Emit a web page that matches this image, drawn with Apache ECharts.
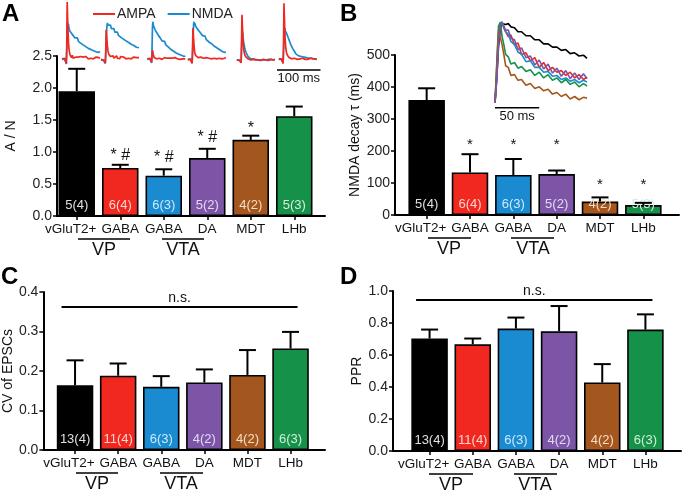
<!DOCTYPE html>
<html><head><meta charset="utf-8">
<script src="https://cdn.jsdelivr.net/npm/echarts@6/dist/echarts.min.js"></script>
<style>html,body{margin:0;padding:0;background:#fff}#c{width:682px;height:494px}</style>
</head><body><div id="c"></div>
<script>
// ---------- data ----------
const categories = ['vGluT2+', 'GABA', 'GABA', 'DA', 'MDT', 'LHb'];
const groupLabels = ['VP', 'VTA'];
const barColors = ['#000000', '#f0281f', '#1a8bd0', '#7c55a6', '#a4561f', '#16914a'];
const labelColors = ['#e0e0e0', '#ffd4cf', '#cfe9fb', '#e4d8f2', '#f6dcc4', '#d0f0da'];

// Panel A: AMPA/NMDA ratio
const aMean = [1.95, 0.75, 0.63, 0.905, 1.19, 1.56];
const aErr = [0.35, 0.05, 0.10, 0.145, 0.065, 0.15];
const aN = ['5(4)', '6(4)', '6(3)', '5(2)', '4(2)', '5(3)'];
const aSig = ['', '* #', '* #', '* #', '*', ''];
const aSigLevel = [null, 0.95, 0.92, 1.23, 1.37, null];
const aTicks = {min: 0, max: 2.5, interval: 0.5};

// Panel B: NMDA decay tau (ms)
const bMean = [359, 133, 125, 128, 42, 31];
const bErr = [37, 57, 50, 11, 13, 7];
const bN = ['5(4)', '6(4)', '6(3)', '5(2)', '4(2)', '5(3)'];
const bSig = ['', '*', '*', '*', '*', '*'];
const bSigLevel = [null, 219, 219, 219, 94, 94];
const bTicks = {min: 0, max: 500, interval: 100};

// Panel C: CV of EPSCs
const cMean = [0.164, 0.188, 0.160, 0.171, 0.190, 0.257];
const cErr = [0.063, 0.031, 0.027, 0.033, 0.063, 0.042];
const cN = ['13(4)', '11(4)', '6(3)', '4(2)', '4(2)', '6(3)'];
const cNsLevel = 0.362;
const cTicks = {min: 0, max: 0.4, interval: 0.1};

// Panel D: PPR
const dMean = [0.703, 0.667, 0.765, 0.748, 0.428, 0.759];
const dErr = [0.056, 0.036, 0.069, 0.158, 0.115, 0.095];
const dN = ['13(4)', '11(4)', '6(3)', '4(2)', '4(2)', '6(3)'];
const dNsLevel = 0.944;
const dTicks = {min: 0, max: 1.0, interval: 0.2};

// Example traces, panel A (time in ms, normalized amplitude)
const traceT = [0,3,6,8,10,11,12,13,14,15,16,18,20,22,24,26,28,30,32,34,36,38,40,43,46,49,52,55,58,61,64,67,70,73,76,79,82,85,88];
const ampa1 = [0.02,0.0,0.03,0.01,-0.06,0.25,1.0,0.72,0.48,0.3,0.2,0.1,0.07,0.04,0.08,0.03,0.06,0.02,0.05,0.07,0.03,0.05,0.02,0.06,0.03,0.05,0.02,0.06,0.04,0.02,0.05,0.03,0.06,0.02,0.04,0.05,0.02,0.04,0.03];
const nmda1 = [0.01,-0.02,0.02,0.0,-0.07,0.15,0.45,0.64,0.58,0.62,0.55,0.5,0.53,0.46,0.49,0.42,0.45,0.38,0.41,0.35,0.38,0.32,0.35,0.29,0.31,0.26,0.29,0.23,0.26,0.2,0.23,0.18,0.21,0.16,0.19,0.14,0.17,0.13,0.15];
const ampa2 = [0.01,0.03,0.0,0.02,-0.05,0.15,0.52,0.42,0.32,0.22,0.16,0.1,0.12,0.06,0.09,0.04,0.07,0.03,0.06,0.04,0.07,0.03,0.05,0.02,0.06,0.03,0.05,0.04,0.02,0.05,0.03,0.06,0.02,0.04,0.05,0.03,0.04,0.02,0.04];
const nmda2 = [0.0,0.02,-0.01,0.01,-0.06,0.1,0.3,0.5,0.6,0.64,0.6,0.63,0.57,0.6,0.54,0.57,0.51,0.54,0.48,0.51,0.45,0.48,0.43,0.45,0.39,0.42,0.36,0.38,0.33,0.35,0.3,0.32,0.27,0.29,0.25,0.27,0.22,0.24,0.21];
const ampa3 = [0.02,0.0,0.03,0.01,-0.04,0.08,0.17,0.13,0.09,0.06,0.04,0.03,0.05,0.02,0.04,0.01,0.03,0.02,0.04,0.01,0.03,0.02,0.04,0.01,0.03,0.02,0.03,0.01,0.03,0.02,0.04,0.01,0.02,0.03,0.01,0.03,0.02,0.03,0.02];
const nmda3 = [0.01,0.0,0.02,0.0,-0.05,0.2,0.58,0.66,0.6,0.63,0.56,0.52,0.55,0.47,0.5,0.42,0.45,0.38,0.4,0.33,0.36,0.3,0.32,0.26,0.28,0.22,0.24,0.18,0.2,0.15,0.17,0.12,0.14,0.1,0.12,0.08,0.1,0.06,0.07];
const ampa4 = [0.0,0.02,0.01,0.0,-0.06,0.2,0.55,0.42,0.3,0.2,0.13,0.08,0.05,0.07,0.04,0.06,0.03,0.05,0.02,0.05,0.03,0.06,0.02,0.04,0.05,0.03,0.05,0.02,0.04,0.03,0.05,0.02,0.04,0.03,0.05,0.02,0.04,0.03,0.04];
const nmda4 = [0.01,-0.01,0.02,0.0,-0.05,0.1,0.35,0.55,0.66,0.6,0.64,0.58,0.61,0.54,0.57,0.5,0.53,0.46,0.49,0.42,0.45,0.39,0.41,0.35,0.37,0.31,0.33,0.28,0.3,0.24,0.27,0.21,0.23,0.18,0.2,0.15,0.18,0.13,0.14];
const ampa5 = [0.0,0.01,-0.01,0.0,-0.05,0.3,0.78,0.58,0.4,0.27,0.18,0.1,0.06,0.04,0.03,0.02,0.01,0.02,0.0,0.01,0.0,0.01,-0.01,0.0,0.01,0.0,0.01,-0.01,0.0,0.01,0.0,0.0,0.01,-0.01,0.0,0.01,0.0,0.0,0.01];
const nmda5 = [0.0,0.01,0.0,0.01,-0.04,0.2,0.42,0.5,0.44,0.36,0.3,0.22,0.16,0.12,0.09,0.06,0.05,0.03,0.02,0.03,0.01,0.02,0.0,0.01,0.02,0.0,0.01,0.0,0.01,0.0,0.01,0.0,0.0,0.01,0.0,0.01,0.0,0.0,0.01];
const ampa6 = [0.02,0.0,0.02,0.01,-0.06,0.3,0.98,0.72,0.48,0.32,0.22,0.12,0.08,0.05,0.04,0.03,0.05,0.02,0.04,0.01,0.03,0.02,0.04,0.01,0.03,0.02,0.01,0.03,0.02,0.01,0.03,0.01,0.02,0.03,0.01,0.02,0.01,0.02,0.02];
const nmda6 = [0.01,0.0,0.01,0.0,-0.05,0.15,0.38,0.48,0.55,0.5,0.52,0.46,0.42,0.38,0.34,0.3,0.26,0.23,0.2,0.17,0.15,0.12,0.1,0.08,0.07,0.05,0.06,0.04,0.05,0.03,0.04,0.02,0.03,0.02,0.03,0.01,0.02,0.02,0.01];
const ampaTraces = [ampa1, ampa2, ampa3, ampa4, ampa5, ampa6];
const nmdaTraces = [nmda1, nmda2, nmda3, nmda4, nmda5, nmda6];

// Normalized NMDA traces, panel B inset
const insetT = [0,2,4,6,8,10,12,15,18,22,26,30,35,40,45,50,55,60,65,70,75,80,85,90,95,100,104];
const insetBlack = [0,0.3,0.7,0.92,0.98,1.0,0.97,0.98,0.94,0.93,0.88,0.88,0.83,0.83,0.78,0.78,0.73,0.73,0.69,0.69,0.65,0.66,0.61,0.62,0.58,0.59,0.55];
const insetRed = [0,0.35,0.8,0.97,1.0,0.92,0.93,0.82,0.84,0.72,0.74,0.6,0.62,0.52,0.56,0.44,0.5,0.4,0.44,0.38,0.4,0.34,0.38,0.31,0.35,0.29,0.32];
const insetBlue = [0,0.35,0.8,0.97,1.0,0.95,0.88,0.85,0.76,0.72,0.63,0.6,0.51,0.52,0.44,0.44,0.38,0.39,0.33,0.34,0.29,0.31,0.27,0.29,0.25,0.28,0.26];
const insetPurple = [0,0.3,0.75,0.95,0.99,1.0,0.9,0.9,0.8,0.78,0.66,0.68,0.56,0.58,0.47,0.53,0.42,0.48,0.37,0.43,0.33,0.4,0.3,0.37,0.29,0.36,0.3];
const insetGreen = [0,0.5,0.95,1.0,0.82,0.72,0.6,0.57,0.48,0.5,0.43,0.45,0.39,0.41,0.34,0.38,0.31,0.35,0.28,0.31,0.25,0.29,0.23,0.26,0.2,0.24,0.21];
const insetBrown = [0,0.45,0.9,0.92,0.72,0.6,0.46,0.44,0.34,0.35,0.28,0.29,0.22,0.24,0.18,0.2,0.15,0.17,0.11,0.13,0.08,0.11,0.05,0.08,0.04,0.07,0.06];
const insetTraces = [insetBlack, insetRed, insetBlue, insetPurple, insetGreen, insetBrown];
const insetColors = ['#000000', '#f0281f', '#1a8bd0', '#7c55a6', '#16914a', '#a4561f'];
const insetOrder = [0, 1, 2, 4, 5, 3];

// scale bars
const scaleA = [0, 100];
const scaleB = [0, 50];

// ---------- chart ----------
const FONT = '"Liberation Sans", Arial, Helvetica, sans-serif';
const chart = echarts.init(document.getElementById('c'));
const grids = [], xAxes = [], yAxes = [], series = [];

function barPanel(cfg) {
  grids.push(cfg.frame);
  const gf = grids.length - 1;
  xAxes.push({gridIndex: gf, type: 'value', min: 0, max: 1,
    axisLine: {show: true, onZero: false, lineStyle: {color: '#000', width: 2}},
    axisTick: {show: false}, axisLabel: {show: false}, splitLine: {show: false}});
  yAxes.push({gridIndex: gf, type: 'value', min: cfg.ticks.min, max: cfg.ticks.max, interval: cfg.ticks.interval,
    name: cfg.name, nameLocation: 'middle', nameGap: cfg.nameGap,
    nameTextStyle: {fontSize: 14, color: '#111', fontFamily: FONT},
    axisLine: {show: true, lineStyle: {color: '#000', width: 2}},
    axisTick: {show: true, length: 4, lineStyle: {color: '#000', width: 1.5}},
    axisLabel: {fontSize: 14, color: '#222', margin: 5, fontFamily: FONT,
      formatter: v => v.toFixed(cfg.dec)},
    splitLine: {show: false}});
  grids.push(cfg.bar);
  const gb = grids.length - 1;
  xAxes.push({gridIndex: gb, type: 'category',
    data: categories.map((c, i) => i === 0 ? {value: c, textStyle: {padding: [0, 12, 0, 0]}} : c),
    axisLine: {show: false},
    axisTick: {show: true, alignWithLabel: true, length: 4, lineStyle: {color: '#000', width: 1.5}},
    axisLabel: {fontSize: 13.5, color: '#111', margin: 6, fontFamily: FONT, interval: 0},
    splitLine: {show: false}});
  yAxes.push({gridIndex: gb, type: 'value', min: cfg.ticks.min, max: cfg.ticks.max, show: false});
  const xb = xAxes.length - 1, yb = yAxes.length - 1;
  series.push({type: 'bar', xAxisIndex: xb, yAxisIndex: yb, barWidth: 36.5,
    data: cfg.mean.map((v, i) => ({value: v, itemStyle: {color: barColors[i]}, label: {color: labelColors[i]}})),
    itemStyle: {borderColor: '#000', borderWidth: 1.6},
    label: {show: true, position: 'insideBottom', distance: 4, fontSize: 13, fontFamily: FONT,
      formatter: p => cfg.n[p.dataIndex]},
    z: 2});
  series.push({type: 'custom', xAxisIndex: xb, yAxisIndex: yb, z: 3,
    data: cfg.mean.map((v, i) => [i, v, cfg.err[i]]),
    renderItem: function (params, api) {
      const i = api.value(0), m = api.value(1), e = api.value(2);
      const p0 = api.coord([i, m]), p1 = api.coord([i, m + e]);
      const ch = [
        {type: 'line', shape: {x1: p0[0], y1: p0[1], x2: p1[0], y2: p1[1]}, style: {stroke: '#000', lineWidth: 2}},
        {type: 'line', shape: {x1: p1[0] - 8.5, y1: p1[1], x2: p1[0] + 8.5, y2: p1[1]}, style: {stroke: '#000', lineWidth: 2}}
      ];
      if (cfg.sig && cfg.sig[params.dataIndex]) {
        const ps = api.coord([i, cfg.sigLevel[params.dataIndex]]);
        ch.push({type: 'text', x: ps[0], y: ps[1],
          style: {text: cfg.sig[params.dataIndex], fill: '#111', fontSize: cfg.sigSize, fontFamily: FONT,
            align: 'center', verticalAlign: 'middle'}});
      }
      return {type: 'group', children: ch};
    }});
  if (cfg.nsLevel != null) {
    series.push({type: 'custom', xAxisIndex: xb, yAxisIndex: yb, z: 3,
      data: [[0, cfg.nsLevel]],
      renderItem: function (params, api) {
        const pa = api.coord([0, api.value(1)]), pb = api.coord([categories.length - 1, api.value(1)]);
        const x1 = pa[0] - 13.5, x2 = pb[0] + 7;
        return {type: 'group', children: [
          {type: 'line', shape: {x1: x1, y1: pa[1], x2: x2, y2: pa[1]}, style: {stroke: '#000', lineWidth: 2}},
          {type: 'text', x: (x1 + x2) / 2, y: pa[1] - 9,
            style: {text: 'n.s.', fill: '#111', fontSize: 14, fontFamily: FONT, align: 'center', verticalAlign: 'middle'}}
        ]};
      }});
  }
}

barPanel({frame: {left: 57, top: 56, width: 268, height: 160}, bar: {left: 55, top: 56, width: 261, height: 160},
  ticks: aTicks, dec: 1, name: 'A / N', nameGap: 39, mean: aMean, err: aErr, n: aN, sig: aSig, sigLevel: aSigLevel, sigSize: 16});
barPanel({frame: {left: 395, top: 55, width: 284, height: 160}, bar: {left: 405, top: 55, width: 260, height: 160},
  ticks: bTicks, dec: 0, name: 'NMDA decay τ (ms)', nameGap: 33, mean: bMean, err: bErr, n: bN, sig: bSig, sigLevel: bSigLevel, sigSize: 15});
barPanel({frame: {left: 40, top: 292, width: 285, height: 158}, bar: {left: 53.5, top: 292, width: 258.6, height: 158},
  ticks: cTicks, dec: 1, name: 'CV of EPSCs', nameGap: 22, mean: cMean, err: cErr, n: cN, nsLevel: cNsLevel});
barPanel({frame: {left: 393, top: 291, width: 288, height: 160}, bar: {left: 408, top: 291, width: 259, height: 160},
  ticks: dTicks, dec: 1, name: 'PPR', nameGap: 25, mean: dMean, err: dErr, n: dN, nsLevel: dNsLevel});

// Panel A example traces
const traceLefts = [62, 101, 147.3, 187.8, 236.8, 278.8];
traceLefts.forEach((lx, k) => {
  grids.push({left: lx, top: 2, width: 38, height: 62.6});
  const g = grids.length - 1;
  xAxes.push({gridIndex: g, type: 'value', min: 0, max: 88, show: false});
  yAxes.push({gridIndex: g, type: 'value', min: -0.08, max: 1, show: false});
  const xi = xAxes.length - 1, yi = yAxes.length - 1;
  series.push({name: 'NMDA', type: 'line', xAxisIndex: xi, yAxisIndex: yi, showSymbol: false, clip: false,
    data: traceT.map((t, j) => [t, nmdaTraces[k][j]]),
    lineStyle: {color: '#1a8bd0', width: 1.7}, itemStyle: {color: '#1a8bd0'}, z: 4});
  series.push({name: 'AMPA', type: 'line', xAxisIndex: xi, yAxisIndex: yi, showSymbol: false, clip: false,
    data: traceT.map((t, j) => [t, ampaTraces[k][j]]),
    lineStyle: {color: '#f0281f', width: 1.7}, itemStyle: {color: '#f0281f'}, z: 5});
});

// Scale bar panel A
grids.push({left: 277, top: 69, width: 43.5, height: 2});
(function () {
  const g = grids.length - 1;
  xAxes.push({gridIndex: g, type: 'value', min: 0, max: 100, show: false});
  yAxes.push({gridIndex: g, type: 'value', min: -1, max: 1, show: false});
  series.push({type: 'line', xAxisIndex: xAxes.length - 1, yAxisIndex: yAxes.length - 1,
    data: [[scaleA[0], 0], {value: [(scaleA[0] + scaleA[1]) / 2, 0], label: {show: true}}, [scaleA[1], 0]],
    symbol: 'circle', symbolSize: 0, showSymbol: true, clip: false,
    lineStyle: {color: '#000', width: 1.5},
    label: {show: false, position: 'bottom', distance: 2, formatter: '100 ms', fontSize: 13, color: '#111', fontFamily: FONT}});
})();

// Panel B inset
grids.push({left: 495, top: 22, width: 92, height: 89.1});
(function () {
  const g = grids.length - 1;
  xAxes.push({gridIndex: g, type: 'value', min: 0, max: 104, show: false});
  yAxes.push({gridIndex: g, type: 'value', min: -0.1, max: 1, show: false});
  const xi = xAxes.length - 1, yi = yAxes.length - 1;
  insetOrder.forEach(k => {
    series.push({type: 'line', xAxisIndex: xi, yAxisIndex: yi, showSymbol: false, clip: false,
      data: insetT.map((t, j) => [t, insetTraces[k][j]]),
      lineStyle: {color: insetColors[k], width: 1.6}, z: 4});
  });
  series.push({type: 'line', xAxisIndex: xi, yAxisIndex: yi, clip: false,
    data: [[scaleB[0], -0.06], {value: [(scaleB[0] + scaleB[1]) / 2, -0.06], label: {show: true}}, [scaleB[1], -0.06]],
    symbol: 'circle', symbolSize: 0, showSymbol: true,
    lineStyle: {color: '#000', width: 1.5},
    label: {show: false, position: 'bottom', distance: 2, formatter: '50 ms', fontSize: 13, color: '#111', fontFamily: FONT}});
})();

// group labels (VP / VTA) under the x axes
const groupSpecs = [
  {y: 216, lines: [[78, 130], [162, 204]], centers: [104, 183]},
  {y: 215, lines: [[428, 471], [511, 554]], centers: [449, 533]},
  {y: 450, lines: [[76, 118], [160, 203]], centers: [97, 181]},
  {y: 451, lines: [[429, 473], [514, 557]], centers: [451, 535]}
];
const graphics = [];
groupSpecs.forEach(gs => {
  gs.lines.forEach((ln, j) => {
    graphics.push({type: 'line', shape: {x1: ln[0], y1: gs.y + 23, x2: ln[1], y2: gs.y + 23}, style: {stroke: '#000', lineWidth: 1.6}});
    graphics.push({type: 'text', x: gs.centers[j], y: gs.y + 34,
      style: {text: groupLabels[j], fill: '#111', fontSize: 18, fontFamily: FONT, align: 'center', verticalAlign: 'middle'}});
  });
});
[['A', 2, 2], ['B', 340, 2], ['C', 1, 265], ['D', 340, 265]].forEach(p => {
  graphics.push({type: 'text', x: p[1], y: p[2],
    style: {text: p[0], fill: '#000', fontSize: 24, fontWeight: 'bold', fontFamily: FONT, align: 'left', verticalAlign: 'top'}});
});

chart.setOption({
  animation: false,
  backgroundColor: '#fff',
  legend: {data: ['AMPA', 'NMDA'], left: 88, top: 2, icon: 'rect', itemWidth: 22, itemHeight: 2, itemGap: 12,
    textStyle: {fontSize: 14, color: '#222', fontFamily: FONT, padding: [0, 0, 0, -3]}},
  grid: grids, xAxis: xAxes, yAxis: yAxes, series: series, graphic: graphics
});
</script>
</body></html>
